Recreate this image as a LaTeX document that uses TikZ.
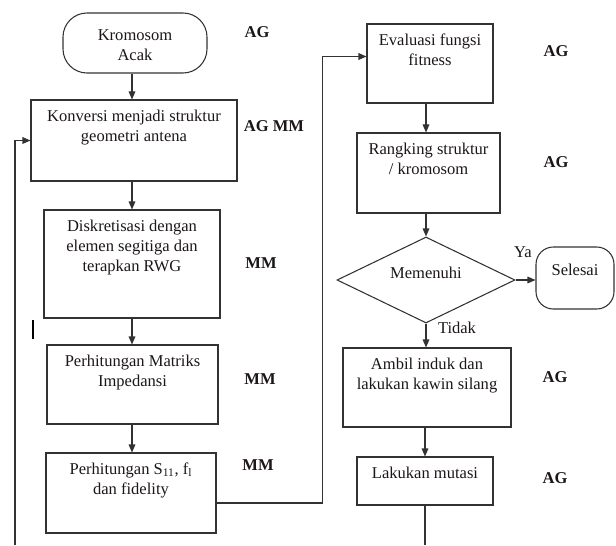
\documentclass[tikz,border=0pt]{standalone}
\usepackage{fontspec}
\setmainfont{Liberation Serif}
\usepackage{tikz}
\usetikzlibrary{shapes.geometric,arrows.meta,positioning,fit,calc}
\definecolor{flowgray}{RGB}{50,50,50}
\definecolor{flowtext}{RGB}{28,22,22}

\begin{document}
\begin{tikzpicture}[
x=0.75pt,
y=-0.75pt,
font=\fontsize{12.4pt}{15pt}\selectfont,
color=flowtext,
blk/.style={
draw=flowgray,
rectangle,
line width=0.8pt,
inner sep=0pt
},
term/.style={
blk,
rounded corners=18pt
},
dec/.style={
draw=flowgray,
diamond,
line width=0.8pt,
inner sep=0pt,
minimum width=133.5pt,
minimum height=64.5pt
},
txt/.style={
anchor=north,
align=center,
inner sep=0pt,
yshift=-7.5pt
},
mid/.style={
align=center,
inner sep=0pt
},
tag/.style={
font=\fontsize{12.4pt}{15pt}\selectfont\bfseries
},
edge/.style={
-{Triangle[length=6pt,width=5pt]},
line width=0.8pt,
draw=flowgray
}
]

\useasboundingbox (0,0) rectangle (616,545);

\node[term,fit={(63,13) (207,73)},
label={[mid,yshift=-1.5pt]center:Kromosom\\Acak}] (start) {};
\node[blk,fit={(31,100) (237,181)},
label={[txt]north:Konversi menjadi struktur\\geometri antena}] (konv) {};
\node[blk,fit={(44,210) (220,318)},
label={[txt]north:Diskretisasi dengan\\elemen segitiga dan\\terapkan RWG}] (disk) {};
\node[blk,fit={(47,345) (218,424)},
label={[txt]north:Perhitungan Matriks\\Impedansi}] (imp) {};
\node[blk,fit={(46,453) (216,533)},
label={[txt]north:{Perhitungan S\textsubscript{11}, f\textsubscript{l}\\dan fidelity}}] (sfid) {};

\node[blk,fit={(367,24) (493,103)},
label={[txt]north:Evaluasi fungsi\\fitness}] (eval) {};
\node[blk,fit={(357,133) (500,213)},
label={[txt]north:Rangking struktur\\/ kromosom}] (rank) {};
\node[dec,label={[mid,yshift=5pt]center:Memenuhi}] (cek) at (426,280) {};
\node[term,rounded corners=13pt,fit={(536,247) (614,309)},
label={[mid,yshift=6pt]center:Selesai}] (stop) {};
\node[blk,fit={(343,348) (511,427)},
label={[txt]north:Ambil induk dan\\lakukan kawin silang}] (kawin) {};
\node[blk,fit={(357,457) (493,505)},
label={[txt]north:Lakukan mutasi}] (mut) {};

\node[tag] (t0) at (257,32) {AG};
\node[tag] (t1) at (274,126) {AG MM};
\node[tag] (t2) at (261,263) {MM};
\node[tag] (t3) at (260,379) {MM};
\node[tag] (t4) at (258,465) {MM};
\node[tag] (t5) at (556,51) {AG};
\node[tag] (t6) at (556,162) {AG};
\node[tag] (t7) at (555,377) {AG};
\node[tag] (t8) at (555,478) {AG};

\node (ya) at (523,252) {Ya};
\node (tidak) at (457,328) {Tidak};

\coordinate (lb) at (15,545);
\coordinate (rb) at (425,545);

\draw[edge]
(start.south -| disk) -- (konv.north -| disk);

\draw[edge]
(konv.south -| disk) -- (disk.north);

\draw[edge]
(disk.south) -- (imp.north -| disk);

\draw[edge]
(imp.south -| disk) -- (sfid.north -| disk);

\draw[edge]
($(sfid.east)+(0,10)$) -- ++(106,0) |- ($(eval.west)+(0,-7)$);

\draw[edge]
(lb) |- (konv.west);

\draw[edge]
(eval.south -| cek) -- (rank.north -| cek);

\draw[edge]
(rank.south -| cek) -- (cek.north);

\draw[edge]
(cek.east) -- (cek.east -| stop.west);

\draw[edge]
(cek.south) -- (kawin.north -| cek);

\draw[edge]
(kawin.south -| mut) -- (mut.north);

\draw[line width=0.8pt,draw=flowgray]
(mut.south) -- (rb);

\draw[line width=1.5pt,draw=black]
(33,320) -- (33,339);

\end{tikzpicture}
\end{document}
